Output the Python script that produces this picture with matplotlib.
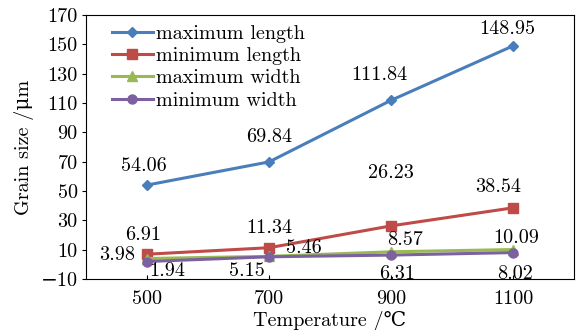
import matplotlib
matplotlib.use('Agg')
import matplotlib.pyplot as plt

plt.rcParams['font.family'] = ['cmr10', 'DejaVu Serif', 'DejaVu Sans']
plt.rcParams['axes.unicode_minus'] = True

temps = ['500', '700', '900', '1100']
max_length = [54.06, 69.84, 111.84, 148.95]
min_length = [6.91, 11.34, 26.23, 38.54]
max_width = [3.98, 5.46, 8.57, 10.09]
min_width = [1.94, 5.15, 6.31, 8.02]
y_ticks = list(range(-10, 171, 20))

# label offsets (pixels) relative to each point
off_max_length = [(-3, 19), (0, 25), (-12, 25), (-6, 17)]
off_min_length = [(-4, 19), (0, 20), (0, 53), (-15, 21)]
off_max_width = [(-30, 3), (35, 8), (14, 12), (3, 12)]
off_min_width = [(20, -10), (-22, -14), (6, -19), (2, -21)]

fig, ax = plt.subplots(figsize=(5.82, 3.30), dpi=100)
fig.subplots_adjust(left=0.1478, right=0.9863, top=0.9545, bottom=0.1545)

x = list(range(len(temps)))
series = [
    ('maximum length', max_length, '#4A7EBB', 'D', 5, off_max_length),
    ('minimum length', min_length, '#BE4B48', 's', 6.5, off_min_length),
    ('maximum width', max_width, '#98B954', '^', 6.5, off_max_width),
    ('minimum width', min_width, '#7D60A0', 'o', 6.5, off_min_width),
]

for name, vals, color, marker, ms, offs in series:
    ax.plot(x, vals, color=color, marker=marker, markersize=ms, linewidth=2.2, label=name)
for name, vals, color, marker, ms, offs in series:
    for xi, v, (dx, dy) in zip(x, vals, offs):
        ax.annotate(f'{v:.2f}', (xi, v), xytext=(dx, dy), textcoords='offset pixels',
                    ha='center', va='center', fontsize=14.5)

ax.set_xlim(-0.5, 3.5)
ax.set_ylim(-10, 170)
ax.set_xticks(x)
ax.set_xticklabels(temps, fontsize=14.5)
ax.set_yticks(y_ticks)
ax.set_yticklabels([str(t).replace('-', '\u2212') for t in y_ticks], fontsize=14.5)
ax.tick_params(axis='x', direction='in', length=3, pad=8)
ax.tick_params(axis='y', direction='out', length=3, pad=3)

ax.set_xlabel('Temperature /\u2103', fontsize=14.5, labelpad=2)
ax.set_ylabel('Grain size /\u03bcm', fontsize=14.5, labelpad=5)

ax.legend(loc='upper left', bbox_to_anchor=(0.025, 1.015), frameon=False, fontsize=14.5,
          handlelength=2.0, handletextpad=0.15, labelspacing=0.2, borderaxespad=0.3)

fig.savefig('out.png', dpi=100)
